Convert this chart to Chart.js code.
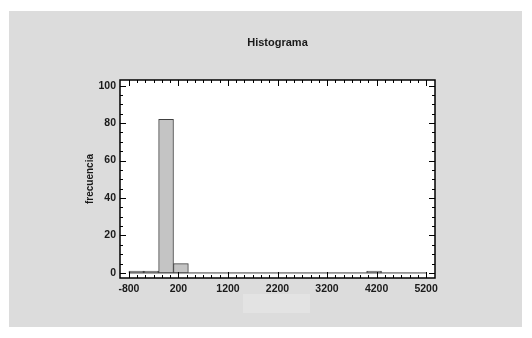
<!DOCTYPE html>
<html lang="es">
<head>
<meta charset="UTF-8">
<title>Histograma</title>
<script src="https://cdn.jsdelivr.net/npm/chart.js"></script>
<style>
    body, html { margin: 0; padding: 0; background: #fff; }
    canvas { display: block; }
</style>
</head>
<body>
<canvas id="histo" width="532" height="338"></canvas>
<script>
    // bins of 300 from -800 to 5200
    const binEdges = [-800, -500, -200, 100, 400, 700, 1000, 1300, 1600, 1900, 2200,
                      2500, 2800, 3100, 3400, 3700, 4000, 4300, 4600, 4900, 5200];
    const counts = [1, 1, 82, 5, 0, 0, 0, 0, 0, 0, 0, 0, 0, 0, 0, 0, 1, 0, 0, 0];
    const xTicks = [-800, 200, 1200, 2200, 3200, 4200, 5200];
    const yTicks = [0, 20, 40, 60, 80, 100];

    const bars = counts.map((c, i) => ({ x: (binEdges[i] + binEdges[i + 1]) / 2, y: c }));
    const baseLine = [{ x: binEdges[0], y: 0 }, { x: binEdges[binEdges.length - 1], y: 0 }];

    const txt = '#1a1a1a';
    const tickFont = { family: 'Liberation Sans, Arial, sans-serif', size: 10.5, weight: 'bold' };

    // fondo gris + marco y marcas hacia dentro
    const frame = {
        id: 'frame',
        beforeDraw(chart) {
            const { ctx, chartArea: a } = chart;
            ctx.save();
            ctx.fillStyle = '#dcdcdc';
            ctx.fillRect(9, 11, 513, 316);
            ctx.fillStyle = '#e3e3e3';
            ctx.fillRect(243, 294, 67, 19);
            ctx.fillStyle = '#fff';
            ctx.fillRect(a.left, a.top, a.right - a.left, a.bottom - a.top);
            ctx.restore();
        },
        afterDatasetsDraw(chart) {
            const { ctx, chartArea: a, scales: { x, y } } = chart;
            ctx.save();
            ctx.strokeStyle = '#000';
            ctx.lineWidth = 1;
            ctx.beginPath();
            // y ticks every 5, major every 20
            for (let v = 0; v <= 100; v += 5) {
                const py = Math.round(y.getPixelForValue(v)) + 0.5;
                const len = v % 20 === 0 ? 6 : 3;
                ctx.moveTo(a.left, py); ctx.lineTo(a.left + len, py);
                ctx.moveTo(a.right, py); ctx.lineTo(a.right - len, py);
            }
            // x ticks, 6 minor steps per 1000
            for (let k = 0; k <= 36; k++) {
                const v = -800 + k * 1000 / 6;
                const px = Math.round(x.getPixelForValue(v)) + 0.5;
                const len = k % 6 === 0 ? 6 : 3;
                ctx.moveTo(px, a.bottom); ctx.lineTo(px, a.bottom - len);
                ctx.moveTo(px, a.top); ctx.lineTo(px, a.top + len);
            }
            ctx.stroke();
            ctx.lineWidth = 1.5;
            ctx.strokeRect(a.left, a.top, a.right - a.left, a.bottom - a.top);
            ctx.restore();
        }
    };

    new Chart(document.getElementById('histo'), {
        type: 'bar',
        data: {
            datasets: [{
                type: 'line',
                data: baseLine,
                borderColor: '#404040',
                borderWidth: 1,
                pointRadius: 0,
                order: 2
            }, {
                data: bars,
                backgroundColor: '#c4c4c4',
                borderColor: '#404040',
                borderWidth: 1,
                borderSkipped: false,
                categoryPercentage: 1,
                barPercentage: 1,
                order: 1
            }]
        },
        options: {
            responsive: false,
            animation: false,
            layout: { padding: { left: 0, right: 97, bottom: 30, top: 0 } },
            plugins: {
                legend: { display: false },
                tooltip: { enabled: false },
                title: {
                    display: true,
                    text: 'Histograma',
                    fullSize: false,
                    color: txt,
                    font: { family: 'Liberation Sans, Arial, sans-serif', size: 11, weight: 'bold' },
                    padding: { top: 36, bottom: 30.8 }
                }
            },
            scales: {
                x: {
                    type: 'linear',
                    offset: false,
                    min: -980,
                    max: 5380,
                    grid: { display: false, drawTicks: false },
                    border: { display: false },
                    afterBuildTicks: s => { s.ticks = xTicks.map(v => ({ value: v })); },
                    afterFit: s => { s.height = 30; },
                    ticks: { color: txt, font: tickFont, padding: 5, maxRotation: 0, autoSkip: false,
                             callback: v => String(v) }
                },
                y: {
                    min: -2.7,
                    max: 103,
                    grid: { display: false, drawTicks: false },
                    border: { display: false },
                    afterBuildTicks: s => { s.ticks = yTicks.map(v => ({ value: v })); },
                    afterFit: s => { s.width = 120; },
                    ticks: { color: txt, font: tickFont, padding: 4, callback: v => String(v) },
                    title: {
                        display: true,
                        text: 'frecuencia',
                        color: txt,
                        font: { family: 'Liberation Sans, Arial, sans-serif', size: 10, weight: 'bold' },
                        padding: { top: 84, bottom: 0 }
                    }
                }
            }
        },
        plugins: [frame]
    });
</script>
</body>
</html>
